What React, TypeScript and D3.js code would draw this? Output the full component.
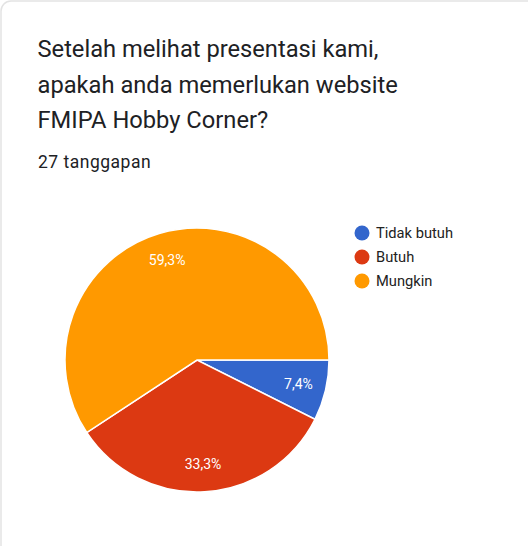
import React, { useEffect, useRef } from "react";
import * as d3 from "d3";

const categories = ["Tidak butuh", "Butuh", "Mungkin"];
const counts = [2, 9, 16];
const colors = ["#3366cc", "#dc3912", "#ff9900"];
const titleLines = [
  "Setelah melihat presentasi kami,",
  "apakah anda memerlukan website",
  "FMIPA Hobby Corner?",
];
const subtitle = "27 tanggapan";

const W = 528;
const H = 546;

export default function App() {
  const ref = useRef<SVGSVGElement>(null);

  useEffect(() => {
    const svg = d3.select(ref.current);
    svg.selectAll("*").remove();
    const font = "Roboto, 'Noto Sans', sans-serif";

    svg.append("rect").attr("width", W).attr("height", H).attr("fill", "#ffffff");
    svg
      .append("rect")
      .attr("x", 1)
      .attr("y", 1)
      .attr("width", W + 20)
      .attr("height", H + 20)
      .attr("rx", 10)
      .attr("fill", "none")
      .attr("stroke", "#e3e3e3")
      .attr("stroke-width", 1.5);

    svg
      .selectAll("text.title")
      .data(titleLines)
      .join("text")
      .attr("class", "title")
      .attr("x", 37.5)
      .attr("y", (_, i) => 57 + i * 35.5)
      .attr("font-family", font)
      .attr("font-size", 23.7)
      .attr("fill", "#202124")
      .text((d) => d);

    svg
      .append("text")
      .attr("x", 38)
      .attr("y", 167.5)
      .attr("font-family", font)
      .attr("font-size", 17.5)
      .attr("letter-spacing", 0.5)
      .attr("fill", "#202124")
      .text(subtitle);

    const cx = 197;
    const cy = 360;
    const r = 132;
    const total = d3.sum(counts);

    const pie = d3
      .pie<number>()
      .sort(null)
      .startAngle(Math.PI / 2)
      .endAngle(Math.PI / 2 + 2 * Math.PI);
    const arcs = pie(counts);
    const arc = d3.arc<d3.PieArcDatum<number>>().innerRadius(0).outerRadius(r);
    const labelArc = d3
      .arc<d3.PieArcDatum<number>>()
      .innerRadius(r * 0.79)
      .outerRadius(r * 0.79);

    const g = svg.append("g").attr("transform", `translate(${cx},${cy})`);
    g.selectAll("path")
      .data(arcs)
      .join("path")
      .attr("d", arc)
      .attr("fill", (_, i) => colors[i])
      .attr("stroke", "#ffffff")
      .attr("stroke-width", 1.5);

    const fmt = (v: number) => ((v / total) * 100).toFixed(1).replace(".", ",") + "%";
    g.selectAll("text")
      .data(arcs)
      .join("text")
      .attr("transform", (d) => `translate(${labelArc.centroid(d)})`)
      .attr("text-anchor", "middle")
      .attr("dy", "0.35em")
      .attr("font-family", font)
      .attr("font-size", 14)
      .attr("fill", "#ffffff")
      .text((d) => fmt(d.data));

    const legend = svg
      .selectAll("g.legend")
      .data(categories)
      .join("g")
      .attr("class", "legend")
      .attr("transform", (_, i) => `translate(362,${233 + i * 24})`);
    legend
      .append("circle")
      .attr("r", 7.5)
      .attr("fill", (_, i) => colors[i]);
    legend
      .append("text")
      .attr("x", 14)
      .attr("dy", "0.35em")
      .attr("font-family", font)
      .attr("font-size", 14.7)
      .attr("fill", "#222222")
      .text((d) => d);
  }, []);

  return (
    <svg
      ref={ref}
      width={W}
      height={H}
      style={{ position: "absolute", left: 0, top: 0, display: "block" }}
    />
  );
}
